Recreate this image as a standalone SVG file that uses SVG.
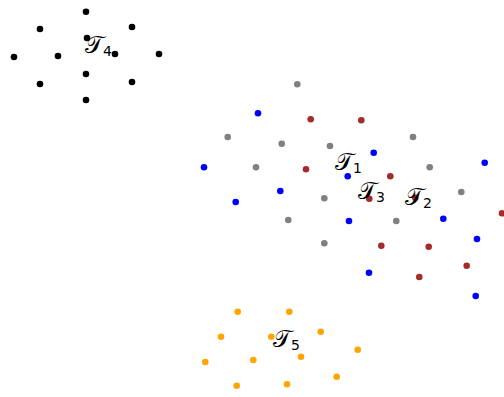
<svg xmlns="http://www.w3.org/2000/svg" width="504" height="397" viewBox="0 0 504 397">
<style>
.k{fill:#000}.g{fill:#808080}.b{fill:#0000ff}.r{fill:#a52a2a}.o{fill:#ffa500}
.t{font-family:"DejaVu Sans","Noto Sans",sans-serif;font-size:24px;fill:#000}
.s{font-family:"DejaVu Sans",sans-serif;font-size:14px;fill:#000}
</style>
<rect width="504" height="397" fill="#fff"/>
<g id="cluster4">
<circle class="k" cx="86" cy="11.7" r="3.3"/><circle class="k" cx="40" cy="29" r="3.3"/><circle class="k" cx="132" cy="27" r="3.3"/><circle class="k" cx="87" cy="38" r="3.3"/><circle class="k" cx="14" cy="57" r="3.3"/><circle class="k" cx="58" cy="56" r="3.3"/><circle class="k" cx="115" cy="54" r="3.3"/><circle class="k" cx="159" cy="54" r="3.3"/><circle class="k" cx="86" cy="74" r="3.3"/><circle class="k" cx="40" cy="84" r="3.3"/><circle class="k" cx="132" cy="82" r="3.3"/><circle class="k" cx="86" cy="100" r="3.3"/>
</g>
<g id="cluster1">
<circle class="g" cx="297.3" cy="84.3" r="3.3"/><circle class="g" cx="227.7" cy="137" r="3.3"/><circle class="g" cx="281.7" cy="143.7" r="3.3"/><circle class="g" cx="330" cy="146" r="3.3"/><circle class="g" cx="256" cy="167.3" r="3.3"/><circle class="g" cx="324.3" cy="198.3" r="3.3"/><circle class="g" cx="288.3" cy="220" r="3.3"/><circle class="g" cx="324.3" cy="243.3" r="3.3"/><circle class="g" cx="413" cy="137" r="3.3"/><circle class="g" cx="429.7" cy="167.3" r="3.3"/><circle class="g" cx="461.3" cy="192" r="3.3"/><circle class="g" cx="396.3" cy="221" r="3.3"/>
</g>
<g id="cluster3">
<circle class="b" cx="258" cy="113.3" r="3.3"/><circle class="b" cx="204" cy="167.3" r="3.3"/><circle class="b" cx="280.3" cy="191" r="3.3"/><circle class="b" cx="235.7" cy="202" r="3.3"/><circle class="b" cx="347.7" cy="176.3" r="3.3"/><circle class="b" cx="373.7" cy="152.7" r="3.3"/><circle class="b" cx="484.7" cy="162.7" r="3.3"/><circle class="b" cx="349" cy="221" r="3.3"/><circle class="b" cx="443.3" cy="218.7" r="3.3"/><circle class="b" cx="477" cy="239" r="3.3"/><circle class="b" cx="369" cy="272.7" r="3.3"/><circle class="b" cx="475.7" cy="296" r="3.3"/>
</g>
<g id="cluster2">
<circle class="r" cx="310.7" cy="119.3" r="3.3"/><circle class="r" cx="306" cy="169.3" r="3.3"/><circle class="r" cx="361.3" cy="120.3" r="3.3"/><circle class="r" cx="390.3" cy="176.3" r="3.3"/><circle class="r" cx="369.3" cy="198.7" r="3.3"/><circle class="r" cx="415.3" cy="197.7" r="3.3"/><circle class="r" cx="502" cy="213.3" r="3.3"/><circle class="r" cx="381.3" cy="245.7" r="3.3"/><circle class="r" cx="428.7" cy="246.7" r="3.3"/><circle class="r" cx="466.7" cy="265.7" r="3.3"/><circle class="r" cx="419.3" cy="277" r="3.3"/>
</g>
<g id="cluster5">
<circle class="o" cx="237.7" cy="311.7" r="3.3"/><circle class="o" cx="289.3" cy="311.7" r="3.3"/><circle class="o" cx="221" cy="336.7" r="3.3"/><circle class="o" cx="271.3" cy="336.7" r="3.3"/><circle class="o" cx="320.7" cy="331.7" r="3.3"/><circle class="o" cx="205.3" cy="362" r="3.3"/><circle class="o" cx="253.3" cy="360" r="3.3"/><circle class="o" cx="301" cy="356.7" r="3.3"/><circle class="o" cx="357.7" cy="349.7" r="3.3"/><circle class="o" cx="236.7" cy="385.7" r="3.3"/><circle class="o" cx="287" cy="384.3" r="3.3"/><circle class="o" cx="336.7" cy="376.7" r="3.3"/>
</g>
<g id="labels">
<text class="t" x="85" y="53">𝒯<tspan class="s" dy="3">4</tspan></text>
<text class="t" x="335" y="170">𝒯<tspan class="s" dy="3">1</tspan></text>
<text class="t" x="358" y="199">𝒯<tspan class="s" dy="3">3</tspan></text>
<text class="t" x="405" y="205">𝒯<tspan class="s" dy="3">2</tspan></text>
<text class="t" x="273" y="347">𝒯<tspan class="s" dy="3">5</tspan></text>
</g>
</svg>
